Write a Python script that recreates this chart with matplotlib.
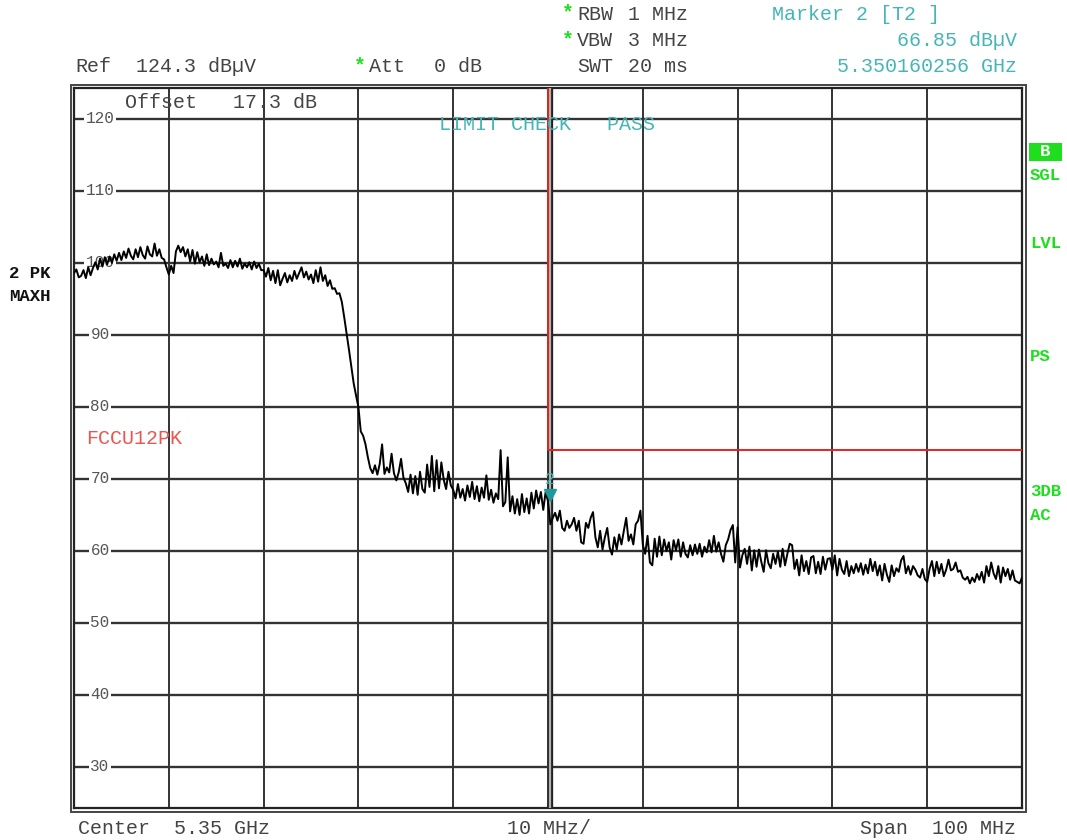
import matplotlib
matplotlib.use("Agg")
import matplotlib.pyplot as plt
import matplotlib.transforms as mtransforms
from matplotlib.patches import Rectangle
import numpy as np

# trace 2 (PK, MAXH) in dBuV, one value every 0.25 MHz from 5.30 to 5.40 GHz
trace_dbuv = [
    98.6, 99.1, 98.0, 98.2, 99.0, 97.9, 99.4, 98.3, 99.3, 100.1, 99.1, 100.6, 99.5, 100.8, 99.8, 100.9, 100.0, 101.2, 100.3, 101.4,
    100.4, 101.6, 100.7, 102.0, 101.0, 100.5, 101.9, 100.8, 102.2, 101.1, 100.6, 102.3, 101.2, 100.9, 102.7, 101.0, 101.9, 100.7, 100.5, 99.4,
    98.4, 99.6, 98.6, 101.6, 102.4, 101.5, 102.2, 100.9, 101.9, 100.2, 101.8, 99.9, 101.5, 100.1, 100.9, 99.6, 101.2, 99.7, 100.6, 99.8,
    100.2, 99.4, 101.4, 99.6, 99.9, 99.3, 100.4, 99.4, 100.3, 99.5, 100.6, 99.2, 99.9, 99.4, 100.1, 99.1, 100.2, 99.3, 99.9, 99.0,
    99.0, 98.1, 99.3, 97.6, 98.9, 97.2, 99.0, 96.9, 97.8, 98.6, 97.3, 98.3, 97.5, 98.9, 97.8, 98.6, 99.4, 98.0, 98.8, 97.7,
    98.4, 97.2, 99.0, 97.4, 99.4, 97.5, 98.3, 96.8, 97.6, 96.4, 96.5, 95.7, 95.8, 94.6, 92.5, 90.3, 88.0, 85.6, 83.3, 81.6,
    80.0, 76.6, 76.0, 74.8, 73.0, 71.5, 70.8, 71.9, 70.6, 72.1, 74.8, 70.7, 71.6, 70.9, 73.5, 70.8, 69.8, 70.9, 72.8, 70.2,
    69.4, 68.2, 70.6, 68.0, 70.4, 67.8, 71.0, 68.6, 68.1, 72.0, 68.9, 73.2, 68.3, 72.6, 68.7, 72.3, 69.9, 68.6, 71.0, 69.1,
    68.5, 67.3, 69.3, 67.4, 68.6, 67.0, 69.1, 67.5, 69.6, 67.2, 69.0, 66.9, 68.8, 67.4, 70.5, 67.1, 68.5, 66.7, 68.0, 67.2,
    74.0, 66.2, 66.8, 73.0, 65.5, 67.6, 65.2, 67.2, 65.0, 67.9, 65.4, 67.3, 65.2, 68.1, 65.9, 68.4, 66.6, 68.2, 65.7, 68.2,
    66.9, 63.7, 64.6, 65.3, 64.2, 65.6, 63.2, 62.8, 64.2, 63.2, 63.7, 64.6, 62.8, 64.2, 61.2, 61.0, 63.9, 63.2, 64.6, 65.4,
    61.9, 60.5, 62.8, 60.2, 61.9, 63.2, 60.5, 59.5, 61.9, 60.2, 62.3, 60.9, 62.8, 64.6, 61.4, 62.3, 60.9, 63.7, 64.2, 65.6,
    60.9, 59.6, 62.1, 58.4, 58.0, 61.7, 59.2, 62.0, 59.4, 61.6, 60.0, 61.2, 58.8, 61.5, 60.1, 61.6, 59.2, 61.2, 59.6, 59.1,
    60.8, 59.4, 60.9, 59.6, 61.0, 59.2, 60.6, 59.8, 61.5, 59.8, 62.1, 59.9, 61.2, 59.6, 58.5, 60.8, 61.6, 62.9, 63.6, 58.4,
    63.3, 57.7, 59.4, 60.3, 58.2, 60.6, 57.3, 60.1, 57.8, 60.2, 58.5, 57.1, 60.1, 58.3, 57.6, 59.6, 58.2, 59.9, 57.8, 60.3,
    58.0, 59.6, 61.0, 60.8, 57.5, 58.8, 56.6, 59.4, 57.2, 58.6, 56.8, 59.1, 59.3, 56.9, 58.5, 56.8, 59.2, 57.4, 58.9, 59.0,
    57.4, 59.4, 56.6, 58.9, 57.4, 56.8, 58.6, 56.5, 57.9, 56.9, 58.2, 57.1, 58.3, 56.7, 58.1, 56.9, 58.9, 57.2, 58.5, 56.6,
    58.0, 55.9, 58.2, 56.7, 55.7, 58.0, 56.5, 57.6, 57.1, 58.7, 59.3, 56.9, 57.9, 56.7, 57.9, 57.4, 56.6, 56.3, 57.5, 56.1,
    55.7, 57.5, 58.6, 56.5, 58.5, 56.9, 58.2, 56.5, 57.4, 58.8, 57.3, 57.5, 58.4, 57.1, 57.3, 56.3, 56.0, 56.4, 55.5, 56.3,
    55.7, 56.8, 56.0, 57.1, 55.6, 57.9, 56.5, 58.4, 56.9, 56.1, 57.9, 55.6, 57.7, 56.5, 57.5, 56.0, 57.3, 55.9, 55.7, 55.5,
    56.3,
]

f_start, f_stop = 5300.0, 5400.0  # MHz
ref_level = 124.3
grid_db = [120, 110, 100, 90, 80, 70, 60, 50, 40, 30]

# limit line FCCU12PK
limit_f = [5350.0, 5350.0, 5400.0]
limit_db = [124.3, 74.0, 74.0]

marker_f = 5350.160256
marker_db = 66.85

W, H = 1067, 840
MONO = "Liberation Mono"
TEAL = "#45b5b5"
GREEN = "#1ede1e"
GREY_TXT = "#444444"

fig = plt.figure(figsize=(W / 100, H / 100), dpi=100)
fig.patch.set_facecolor("white")


def fx(x):
    return x / W


def fy(y):
    return 1 - y / H


ax = fig.add_axes([fx(74), fy(808), (1022 - 74) / W, (808 - 88) / H])
ax.set_xlim(f_start, f_stop)
ax.set_ylim(ref_level - 100, ref_level)
ax.set_xticks([])
ax.set_yticks([])
for s in ax.spines.values():
    s.set_linewidth(1.6)
    s.set_color("#222222")

# outer frame line (double border look)
fig.add_artist(Rectangle((fx(70.5), fy(811.5)), (1025.5 - 70.5) / W, (811.5 - 84.5) / H,
                         transform=fig.transFigure, fill=False, lw=1.4, ec="#444444"))

for f in np.arange(f_start + 10, f_stop, 10):
    ax.axvline(f, color="#333333", lw=1.4, zorder=1)
for v in grid_db:
    ax.axhline(v, color="#333333", lw=1.7, zorder=1)
    ax.text(f_start + 2.75, v, str(v), ha="center", va="center", fontsize=11.5,
            family=MONO, color="#555555", zorder=2,
            bbox=dict(fc="white", ec="none", pad=1.2))

# centre / marker line
ax.axvline(marker_f, color="#222222", lw=3.8, zorder=3)
ax.axvline(marker_f, color="#b0b0b0", lw=1.6, zorder=3.1)

ax.plot(limit_f, limit_db, color="#e8231b", lw=1.4, zorder=3.2)

freq = np.linspace(f_start, f_stop, len(trace_dbuv))
ax.plot(freq, trace_dbuv, color="black", lw=1.4, zorder=4)

# marker 2
tri = mtransforms.offset_copy(ax.transData, fig=fig, x=0, y=5, units="points")
ax.plot([marker_f], [marker_db], marker="v", ms=8, color="#1f9a9a", mec="#1f9a9a",
        transform=tri, zorder=5)
lbl = mtransforms.offset_copy(ax.transData, fig=fig, x=0, y=16, units="points")
ax.text(marker_f, marker_db, "2", transform=lbl, ha="center", va="center",
        fontsize=12, family=MONO, color=TEAL, zorder=5)

ax.text(5301.25, 75.6, "FCCU12PK", ha="left", va="center", fontsize=14.4,
        family=MONO, color="#e8574f", zorder=2)

# header texts
hdr = dict(family=MONO, fontsize=14.4, va="center")
fig.text(fx(75), fy(67), "Ref", color=GREY_TXT, **hdr)
fig.text(fx(136), fy(67), "124.3 dB\u00b5V", color=GREY_TXT, **hdr)
fig.text(fx(354), fy(66), "*", color=GREEN, fontweight="bold", **hdr)
fig.text(fx(369), fy(67), "Att", color=GREY_TXT, **hdr)
fig.text(fx(434), fy(67), "0 dB", color=GREY_TXT, **hdr)
fig.text(fx(562), fy(13), "*", color=GREEN, fontweight="bold", **hdr)
fig.text(fx(577), fy(14), "RBW", color=GREY_TXT, **hdr)
fig.text(fx(628), fy(14), "1 MHz", color=GREY_TXT, **hdr)
fig.text(fx(562), fy(40), "*", color=GREEN, fontweight="bold", **hdr)
fig.text(fx(577), fy(41), "VBW", color=GREY_TXT, **hdr)
fig.text(fx(628), fy(41), "3 MHz", color=GREY_TXT, **hdr)
fig.text(fx(577), fy(67), "SWT", color=GREY_TXT, **hdr)
fig.text(fx(628), fy(67), "20 ms", color=GREY_TXT, **hdr)
fig.text(fx(772), fy(14), "Marker 2 [T2 ]", color=TEAL, **hdr)
fig.text(fx(1017), fy(41), "66.85 dB\u00b5V", color=TEAL, ha="right", **hdr)
fig.text(fx(1017), fy(67), "5.350160256 GHz", color=TEAL, ha="right", **hdr)

fig.text(fx(125), fy(103), "Offset   17.3 dB", color=GREY_TXT, zorder=5, **hdr)
fig.text(fx(439), fy(125), "LIMIT CHECK   PASS", color=TEAL, zorder=5, **hdr)

# footer
fig.text(fx(78), fy(828), "Center  5.35 GHz", color=GREY_TXT, **hdr)
fig.text(fx(507), fy(828), "10 MHz/", color=GREY_TXT, **hdr)
fig.text(fx(1016), fy(828), "Span  100 MHz", color=GREY_TXT, ha="right", **hdr)

# left side trace info
side = dict(family=MONO, fontsize=12.5, fontweight="bold", va="center")
fig.text(fx(9), fy(273), "2 PK", color="#111111", **side)
fig.text(fx(9), fy(296), "MAXH", color="#111111", **side)

# right side status
fig.add_artist(Rectangle((fx(1029), fy(161)), 33 / W, 18 / H, transform=fig.transFigure,
                         fc=GREEN, ec="none"))
fig.text(fx(1045.5), fy(152), "B", color="white", ha="center", **side)
for label, y in [("SGL", 175), ("LVL", 243), ("PS", 356), ("3DB", 492), ("AC", 515)]:
    fig.text(fx(1030), fy(y), label, color=GREEN, **side)

fig.savefig("out.png", dpi=100)
